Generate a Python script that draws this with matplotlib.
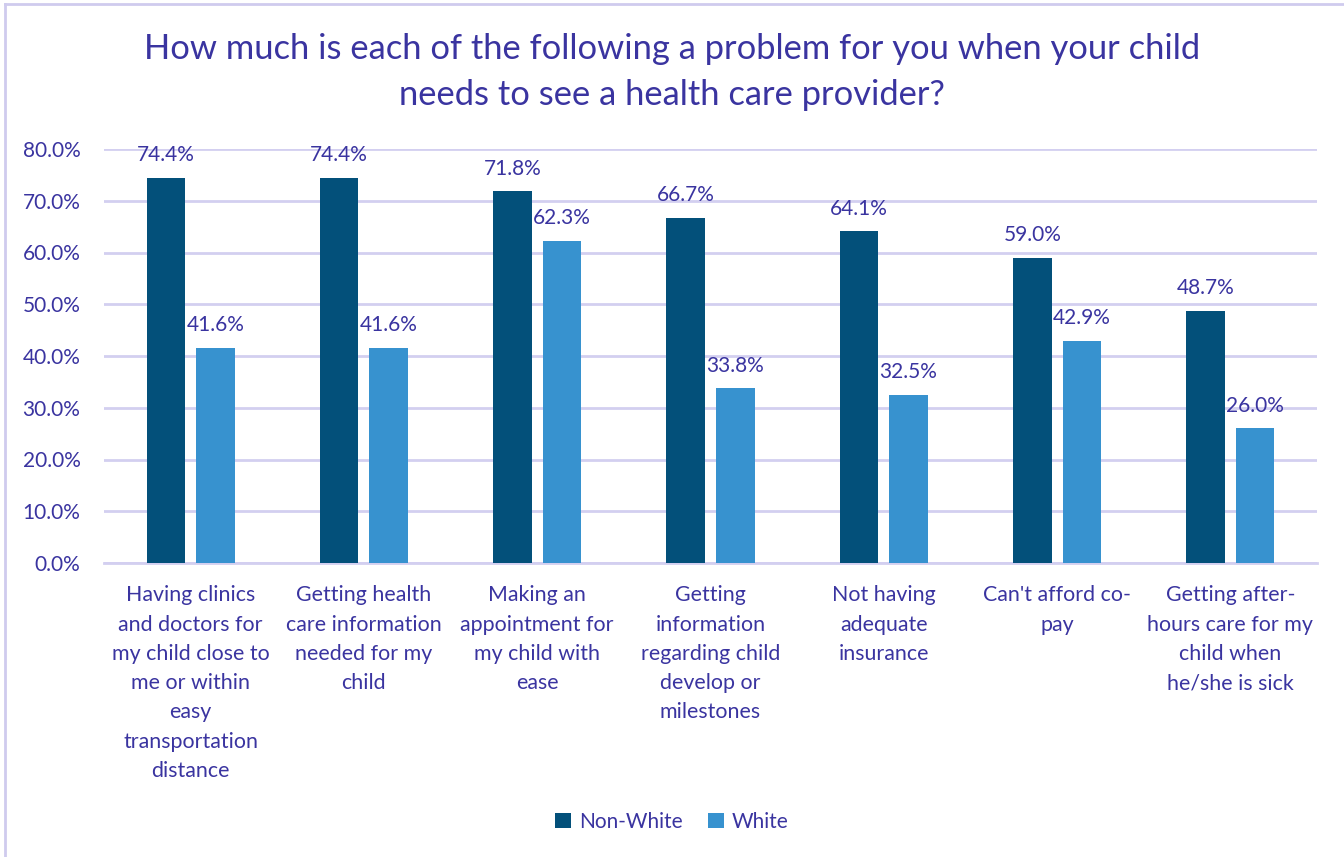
import matplotlib.pyplot as plt
import numpy as np
from matplotlib.lines import Line2D

plt.rcParams['font.family'] = ['Lato', 'DejaVu Sans']

categories = ['Having clinics\nand doctors for\nmy child close to\nme or within\neasy\ntransportation\ndistance',
              'Getting health\ncare information\nneeded for my\nchild',
              'Making an\nappointment for\nmy child with\nease',
              'Getting\ninformation\nregarding child\ndevelop or\nmilestones',
              'Not having\nadequate\ninsurance',
              "Can't afford co-\npay",
              'Getting after-\nhours care for my\nchild when\nhe/she is sick']
non_white = [74.4, 74.4, 71.8, 66.7, 64.1, 59.0, 48.7]
white = [41.6, 41.6, 62.3, 33.8, 32.5, 42.9, 26.0]

txt = '#3A34A0'
c_dark = '#03507A'
c_light = '#3792CF'
grid = '#D3CFF0'

fig = plt.figure(figsize=(13.44, 8.57), dpi=100)
ax = fig.add_axes([104/1344, 1-563/857, (1317-104)/1344, (563-149)/857])

x = np.arange(len(categories))
w = 0.222
b1 = ax.bar(x - 0.143, non_white, w, color=c_dark, label='Non-White', zorder=3)
b2 = ax.bar(x + 0.143, white, w, color=c_light, label='White', zorder=3)

# value labels above each bar
for bars, vals in [(b1, non_white), (b2, white)]:
    for r, v in zip(bars, vals):
        ax.annotate('%.1f%%' % v, (r.get_x() + r.get_width()/2, v),
                    xytext=(0, 9), textcoords='offset points',
                    ha='center', va='bottom', fontsize=15, color=txt)

ax.set_xlim(-0.5, len(categories) - 0.5)
ax.set_ylim(0, 80)
ax.set_yticks(np.arange(0, 81, 10))
ax.set_yticklabels(['%.1f%%' % v for v in np.arange(0, 81, 10)])
ax.yaxis.grid(True, color=grid, linewidth=2, zorder=0)
ax.set_axisbelow(True)
ax.set_xticks(x)
ax.set_xticklabels(categories, fontsize=15.4, color=txt, linespacing=1.58)
ax.tick_params(axis='x', length=0, pad=16)
ax.tick_params(axis='y', length=0, pad=17, labelsize=15, labelcolor=txt)
for s in ['top', 'right', 'left']:
    ax.spines[s].set_visible(False)
ax.spines['bottom'].set_color(grid)
ax.spines['bottom'].set_linewidth(2)

fig.text(0.5, 1-72/857, 'How much is each of the following a problem for you when your child\nneeds to see a health care provider?',
         ha='center', va='center', fontsize=24.8, color=txt, linespacing=1.54)

fig.legend(handles=[b1, b2], loc='center', bbox_to_anchor=(0.5, 1-822/857), ncol=2,
           frameon=False, fontsize=15, labelcolor=txt, handlelength=0.75, handleheight=0.75,
           columnspacing=1.2, handletextpad=0.4)

# outer frame on left and top
fig.add_artist(Line2D([5/1344, 5/1344], [0, 1-4/857], color='#CFCBEE', linewidth=2))
fig.add_artist(Line2D([5/1344, 1], [1-4/857, 1-4/857], color='#CFCBEE', linewidth=2))

fig.savefig('out.png', dpi=100)
